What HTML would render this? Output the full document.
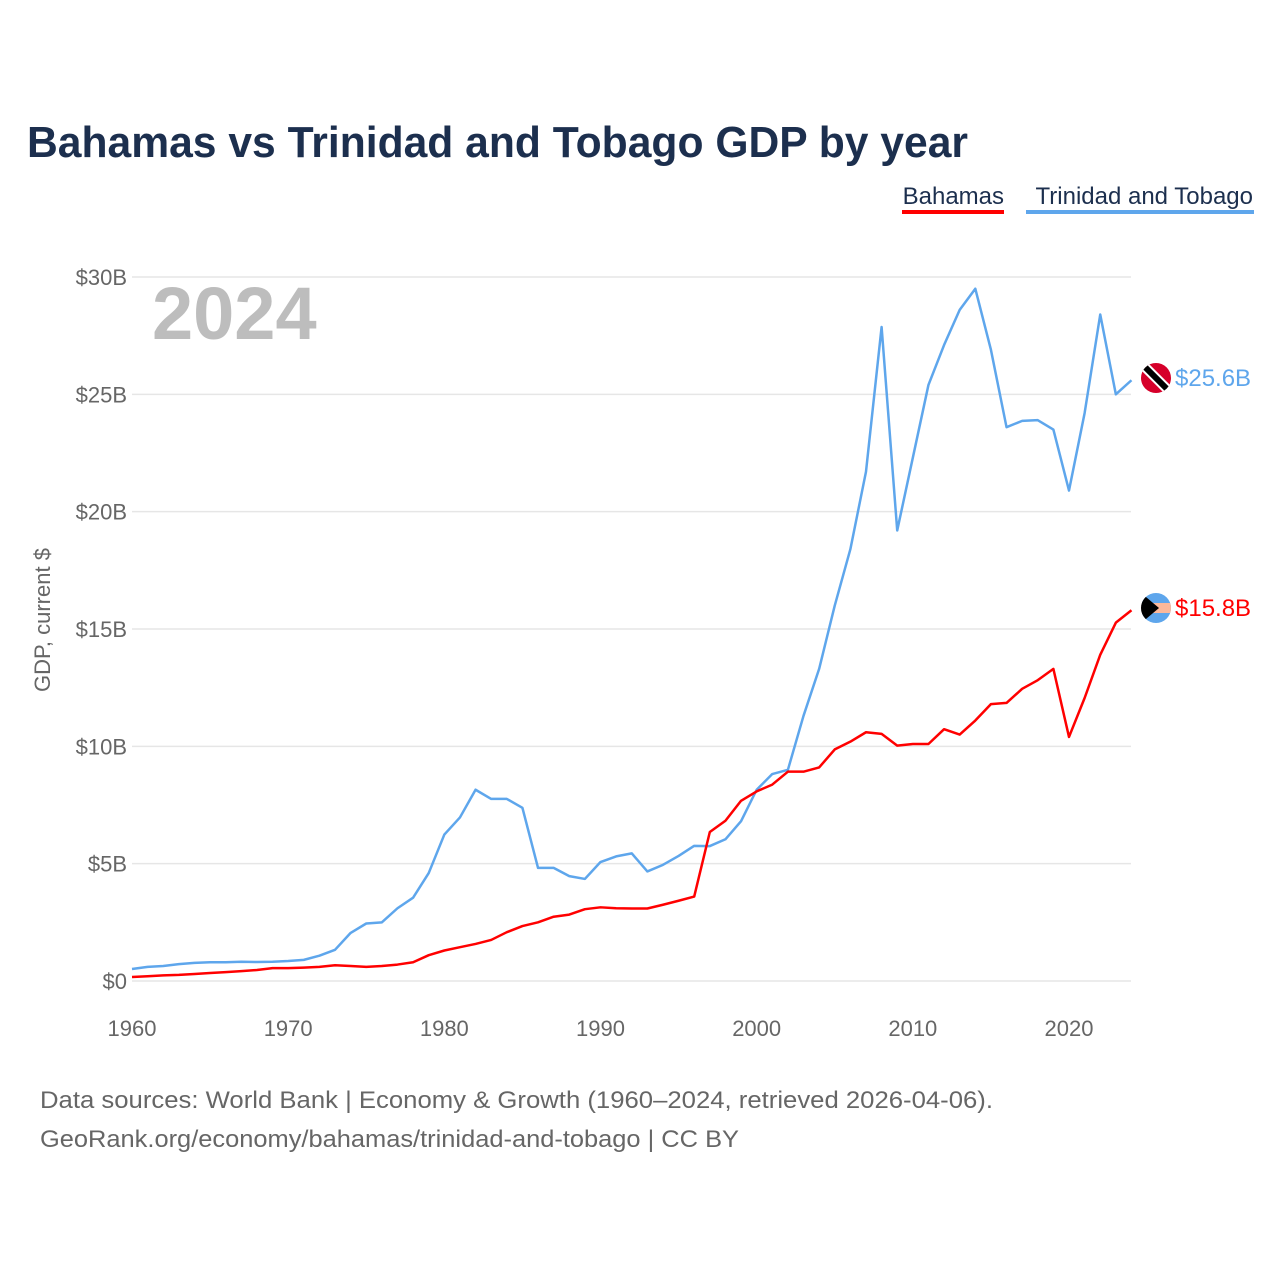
<!DOCTYPE html>
<html><head><meta charset="utf-8"><style>
body{margin:0;background:#fff;width:1280px;height:1280px;overflow:hidden;font-family:"Liberation Sans",sans-serif}
</style></head><body>
<svg id="chart" width="1280" height="1280" xmlns="http://www.w3.org/2000/svg">
<text x="27" y="157" font-size="44" font-weight="bold" fill="#1c2f4e" textLength="941" lengthAdjust="spacingAndGlyphs">Bahamas vs Trinidad and Tobago GDP by year</text>
<g>
<text x="1004" y="204" font-size="24" fill="#1c2f4e" text-anchor="end">Bahamas</text>
<rect x="902" y="210" width="102" height="4" fill="#ff0000"/>
<text x="1253" y="204" font-size="24" fill="#1c2f4e" text-anchor="end">Trinidad and Tobago</text>
<rect x="1026" y="210" width="228" height="4" fill="#5ea6ec"/>
</g>
<text x="152" y="339" font-size="74" font-weight="bold" fill="#bdbdbd">2024</text>
<text transform="translate(50,620) rotate(-90)" font-size="22" fill="#666" text-anchor="middle">GDP, current $</text>
<g id="grid"></g><g id="lines"></g><g id="xt"></g>
<g>
<clipPath id="c1"><circle cx="1156" cy="378" r="15"/></clipPath>
<g clip-path="url(#c1)"><rect x="1140" y="362" width="32" height="32" fill="#d6002a"/>
<line x1="1140" y1="362" x2="1172" y2="394" stroke="#fff" stroke-width="10"/>
<line x1="1140" y1="362" x2="1172" y2="394" stroke="#000" stroke-width="6"/></g></g>
<g>
<clipPath id="c2"><circle cx="1156" cy="608" r="15"/></clipPath>
<g clip-path="url(#c2)"><rect x="1140" y="592" width="32" height="32" fill="#5ea6ec"/>
<rect x="1140" y="603" width="32" height="10" fill="#fcb89a"/>
<polygon points="1140,592 1159,608 1140,624" fill="#000"/></g></g>
<text x="1175" y="386" font-size="24" fill="#5ea6ec">$25.6B</text>
<text x="1175" y="616" font-size="24" fill="#ff0000">$15.8B</text>
<text x="40" y="1108" font-size="24" fill="#666" textLength="953" lengthAdjust="spacingAndGlyphs">Data sources: World Bank | Economy &amp; Growth (1960–2024, retrieved 2026-04-06).</text>
<text x="40" y="1147" font-size="24" fill="#666" textLength="699" lengthAdjust="spacingAndGlyphs">GeoRank.org/economy/bahamas/trinidad-and-tobago | CC BY</text>
</svg>
<script>
const years=[];for(let y=1960;y<=2024;y++)years.push(y);
const trinidad=[0.51,0.6,0.64,0.72,0.77,0.8,0.8,0.82,0.81,0.82,0.85,0.9,1.08,1.33,2.05,2.45,2.5,3.1,3.55,4.6,6.24,6.97,8.15,7.76,7.76,7.38,4.82,4.82,4.47,4.35,5.07,5.31,5.44,4.67,4.95,5.33,5.76,5.75,6.04,6.81,8.15,8.82,9.0,11.3,13.3,16.0,18.4,21.7,27.87,19.2,22.3,25.4,27.1,28.6,29.5,26.9,23.6,23.87,23.9,23.5,20.9,24.2,28.4,25.0,25.6];
const bahamas=[0.17,0.2,0.24,0.26,0.3,0.34,0.38,0.42,0.47,0.55,0.55,0.57,0.6,0.67,0.64,0.6,0.64,0.7,0.8,1.1,1.3,1.44,1.58,1.75,2.08,2.34,2.5,2.74,2.83,3.06,3.14,3.1,3.09,3.09,3.25,3.42,3.6,6.35,6.83,7.68,8.08,8.37,8.92,8.92,9.1,9.87,10.2,10.6,10.53,10.03,10.1,10.1,10.73,10.5,11.1,11.8,11.85,12.45,12.82,13.3,10.4,12.06,13.9,15.27,15.8];
const yTicks=[0,5,10,15,20,25,30];
const yTickLabels=["$0","$5B","$10B","$15B","$20B","$25B","$30B"];
const xTicks=[1960,1970,1980,1990,2000,2010,2020];
const NS="http://www.w3.org/2000/svg";
const xs=y=>132+(y-1960)*(1069-132)/60;
const ys=v=>981-v*(981-277)/30;
const grid=document.getElementById('grid'),lines=document.getElementById('lines'),xt=document.getElementById('xt');
yTicks.forEach((t,i)=>{
 const l=document.createElementNS(NS,'line');
 l.setAttribute('x1',132);l.setAttribute('x2',1131);l.setAttribute('y1',ys(t));l.setAttribute('y2',ys(t));
 l.setAttribute('stroke','#e6e6e6');l.setAttribute('stroke-width','1.5');
 
 
 grid.appendChild(l);
 const tx=document.createElementNS(NS,'text');
 tx.setAttribute('x',127);tx.setAttribute('y',ys(t)+8);tx.setAttribute('text-anchor','end');
 tx.setAttribute('font-size','22');tx.setAttribute('fill','#666');tx.textContent=yTickLabels[i];
 
 
 grid.appendChild(tx);
});
xTicks.forEach(t=>{
 const tx=document.createElementNS(NS,'text');
 tx.setAttribute('x',xs(t));tx.setAttribute('y',1036);tx.setAttribute('text-anchor','middle');
 tx.setAttribute('font-size','22');tx.setAttribute('fill','#666');tx.textContent=t;
 
 
 xt.appendChild(tx);
});
function line(data,color,name){
 const p=document.createElementNS(NS,'polyline');
 p.setAttribute('points',data.map((v,i)=>xs(years[i])+','+ys(v)).join(' '));
 p.setAttribute('fill','none');p.setAttribute('stroke',color);p.setAttribute('stroke-width','2.5');p.setAttribute('stroke-linejoin','round');
 
 
 lines.appendChild(p);
}
line(trinidad,'#5ea6ec','trinidad-line');
line(bahamas,'#ff0000','bahamas-line');
</script>
</body></html>
